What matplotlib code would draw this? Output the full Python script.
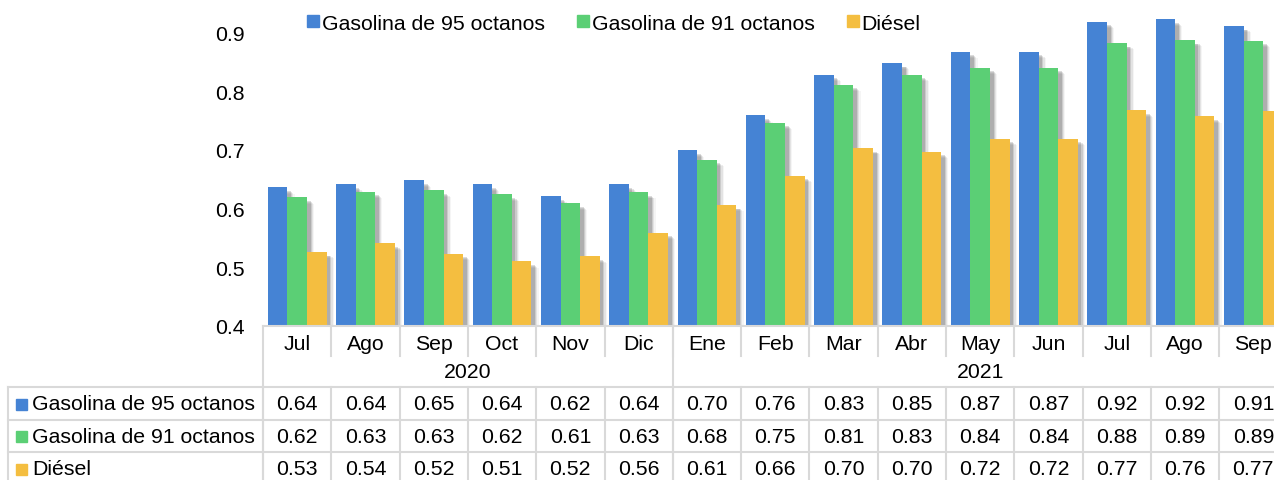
import numpy as np
import matplotlib.pyplot as plt
import matplotlib.patheffects as pe
from matplotlib.lines import Line2D
from matplotlib.patches import Rectangle
from matplotlib.transforms import blended_transform_factory

plt.rcParams['font.family'] = ['Liberation Sans', 'DejaVu Sans']

# datos
meses = ['Jul', 'Ago', 'Sep', 'Oct', 'Nov', 'Dic', 'Ene', 'Feb', 'Mar',
         'Abr', 'May', 'Jun', 'Jul', 'Ago', 'Sep']
anios = ['2020', '2021']
n_2020 = 6
series = ['Gasolina de 95 octanos', 'Gasolina de 91 octanos', 'Diésel']
g95 = [0.636, 0.641, 0.648, 0.641, 0.621, 0.641, 0.699, 0.759, 0.828,
       0.848, 0.867, 0.867, 0.918, 0.922, 0.911]
g91 = [0.619, 0.629, 0.631, 0.624, 0.609, 0.628, 0.683, 0.746, 0.811,
       0.828, 0.840, 0.840, 0.882, 0.887, 0.886]
diesel = [0.526, 0.541, 0.523, 0.510, 0.519, 0.559, 0.606, 0.656, 0.703,
          0.697, 0.719, 0.719, 0.767, 0.757, 0.766]
colores = ['#4583D4', '#5BCF75', '#F4BE40']

W, H = 1274, 481
fs = 15.3
gris = '#D9D9D9'

fig = plt.figure(figsize=(W / 100, H / 100), dpi=100)
ax = fig.add_axes([263 / W, 1 - 327 / H, (1287.5 - 263) / W, (327 - 4) / H])

x = np.arange(len(meses))
w = 0.287
# sombra difusa a la derecha/abajo
sombra = [pe.SimplePatchShadow(offset=(5.2, -4.6), shadow_rgbFace='k', alpha=0.04),
          pe.SimplePatchShadow(offset=(4.3, -3.9), shadow_rgbFace='k', alpha=0.07),
          pe.SimplePatchShadow(offset=(3.4, -3.2), shadow_rgbFace='k', alpha=0.10),
          pe.SimplePatchShadow(offset=(2.6, -2.6), shadow_rgbFace='k', alpha=0.14),
          pe.Normal()]

valores = [g95, g91, diesel]
for k, (vals, c) in enumerate(zip(valores, colores)):
    bars = ax.bar(x + (k - 1) * w, np.array(vals) - 0.4, w, bottom=0.4,
                  color=c, zorder=2 + k)
    for b in bars:
        b.set_path_effects(sombra)

ax.set_xlim(-0.5, len(meses) - 0.5)
ax.set_ylim(0.4, 0.95)
ax.set_yticks([0.4, 0.5, 0.6, 0.7, 0.8, 0.9])
ax.set_yticklabels(['0.4', '0.5', '0.6', '0.7', '0.8', '0.9'])
ax.tick_params(axis='y', length=0, pad=13, labelsize=fs)
ax.set_xticks([])
for s in ax.spines.values():
    s.set_visible(False)

# leyenda
handles = [Rectangle((0, 0), 1, 1, color=c) for c in colores]
fig.legend(handles, series, loc='center', bbox_to_anchor=(614 / W, 1 - 24 / H),
           ncol=3, frameon=False, fontsize=fs, handlelength=0.55,
           handleheight=0.55, handletextpad=0.12, columnspacing=1.55)

# tabla de datos
tr = blended_transform_factory(ax.transData, fig.transFigure)
def fy(p):
    return 1 - p / H

def linea(xs, ys, t):
    fig.add_artist(Line2D(xs, ys, transform=t, color=gris, lw=1.5, zorder=1))

bordes = np.arange(len(meses) + 1) - 0.5
# fila de meses
linea([-0.5, 15], [fy(327), fy(327)], tr)
for b in bordes[1:]:
    linea([b, b], [fy(327), fy(357)], tr)
for i, m in enumerate(meses):
    fig.text(i, fy(344), m, transform=tr, ha='center', va='center', fontsize=fs)
# fila de años
linea([-0.5, -0.5], [fy(327), fy(490)], tr)
linea([n_2020 - 0.5, n_2020 - 0.5], [fy(327), fy(490)], tr)
linea([len(meses) - 0.5, len(meses) - 0.5], [fy(327), fy(490)], tr)
fig.text((n_2020 - 1) / 2, fy(373), anios[0], transform=tr, ha='center',
         va='center', fontsize=fs)
fig.text((n_2020 + len(meses) - 1) / 2, fy(373), anios[1], transform=tr,
         ha='center', va='center', fontsize=fs)
# filas de datos
filas = [388, 421, 453, 486]
for p in filas:
    fig.add_artist(Line2D([8 / W, 1.05], [fy(p), fy(p)], transform=fig.transFigure,
                          color=gris, lw=1.5, zorder=1))
linea([8 / W, 8 / W], [fy(388), fy(490)], fig.transFigure)
for b in bordes:
    linea([b, b], [fy(388), fy(490)], tr)
for r, (nombre, vals, c) in enumerate(zip(series, valores, colores)):
    yc = (filas[r] + filas[r + 1]) / 2 + 0.5
    fig.add_artist(Rectangle((16 / W, fy(yc + 5.5)), 11 / W, 11 / H,
                             transform=fig.transFigure, color=c))
    fig.text(32 / W, fy(yc), nombre, ha='left', va='center', fontsize=fs)
    for i, v in enumerate(vals):
        fig.text(i, fy(yc), f'{v:.2f}', transform=tr, ha='center', va='center',
                 fontsize=fs)

fig.savefig('out.png', dpi=100)
